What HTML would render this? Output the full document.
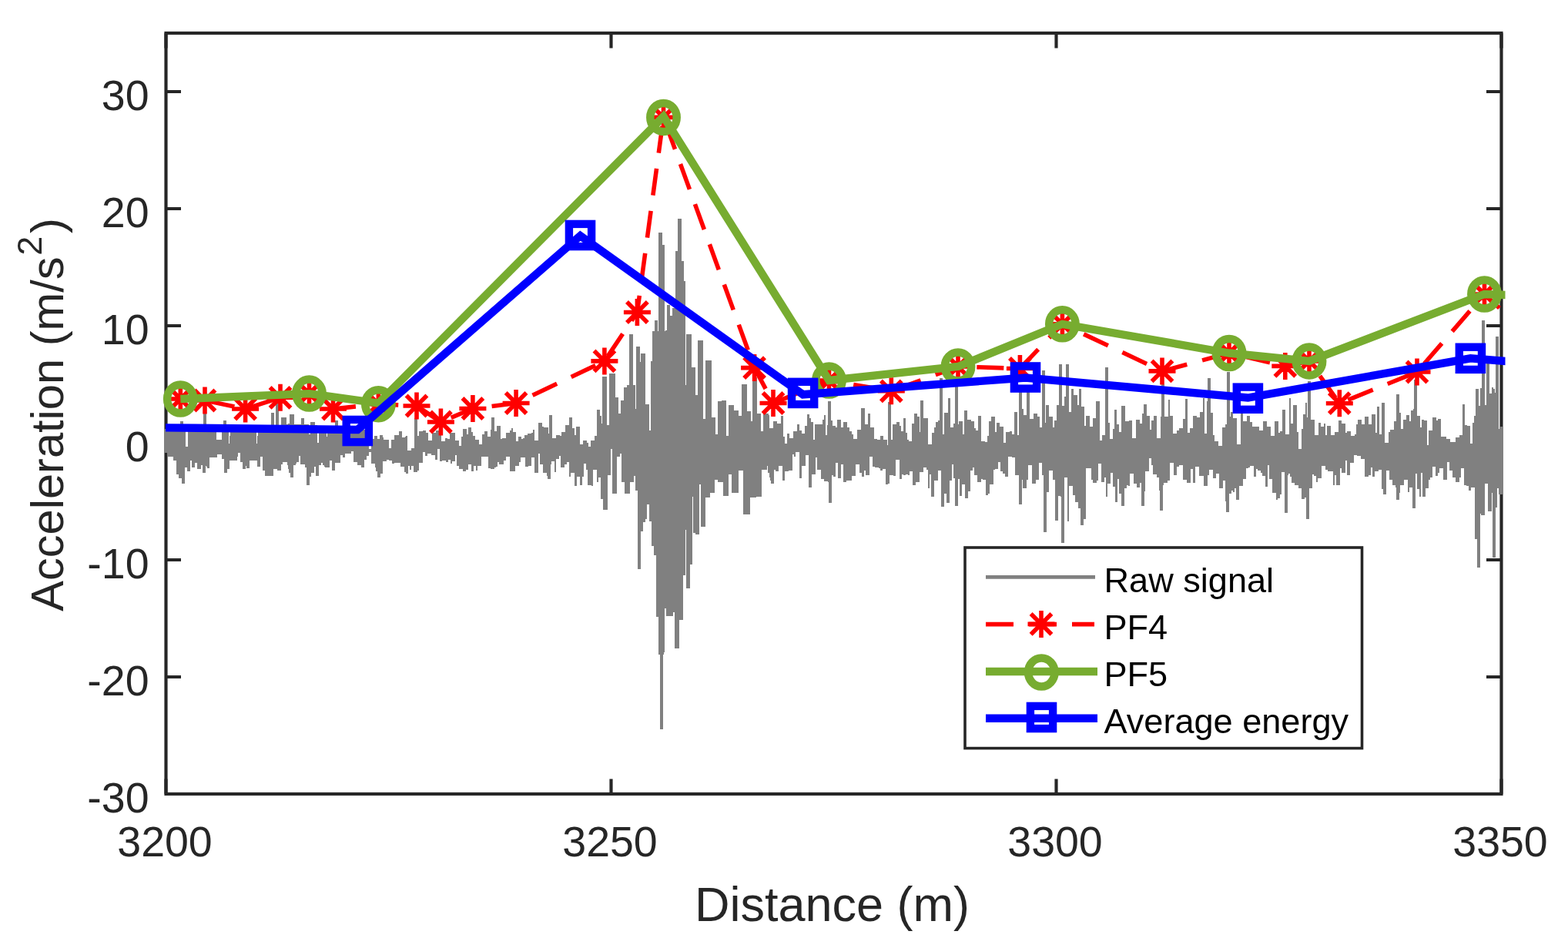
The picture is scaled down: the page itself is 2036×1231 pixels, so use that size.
<!DOCTYPE html><html><head><meta charset="utf-8"><title>Acceleration vs Distance</title><style>html,body{margin:0;padding:0;background:#fff;width:2036px;height:1231px;overflow:hidden}svg{display:block}text{font-family:"Liberation Sans",Arial,Helvetica,sans-serif}</style></head><body>
<svg width="2036" height="1231" viewBox="0 0 2036 1231">
<rect width="2036" height="1231" fill="#fff"/>
<defs><clipPath id="ax"><rect x="215" y="38" width="1739.5" height="998"/></clipPath></defs>
<g stroke="#262626" stroke-width="4.17" fill="none">
<rect x="215.5" y="43.0" width="1734.0" height="988.0" stroke-linejoin="miter"/>
<path d="M215.5,1031.0H235.0M1949.5,1031.0H1930.0M215.5,879.0H235.0M1949.5,879.0H1930.0M215.5,727.0H235.0M1949.5,727.0H1930.0M215.5,575.0H235.0M1949.5,575.0H1930.0M215.5,423.0H235.0M1949.5,423.0H1930.0M215.5,271.0H235.0M1949.5,271.0H1930.0M215.5,119.0H235.0M1949.5,119.0H1930.0M215.5,1031.0V1011.5M215.5,43.0V62.5M793.5,1031.0V1011.5M793.5,43.0V62.5M1371.5,1031.0V1011.5M1371.5,43.0V62.5M1949.5,1031.0V1011.5M1949.5,43.0V62.5"/>
</g>
<g fill="#262626" font-size="55.5">
<text x="193.5" y="1054.5" text-anchor="end">-30</text>
<text x="193.5" y="902.5" text-anchor="end">-20</text>
<text x="193.5" y="750.5" text-anchor="end">-10</text>
<text x="193.5" y="598.5" text-anchor="end">0</text>
<text x="193.5" y="446.5" text-anchor="end">10</text>
<text x="193.5" y="294.5" text-anchor="end">20</text>
<text x="193.5" y="142.5" text-anchor="end">30</text>
<text x="214.0" y="1111.5" text-anchor="middle">3200</text>
<text x="792.0" y="1111.5" text-anchor="middle">3250</text>
<text x="1370.0" y="1111.5" text-anchor="middle">3300</text>
<text x="1948.0" y="1111.5" text-anchor="middle">3350</text>
</g>
<text x="1080.5" y="1195.7" text-anchor="middle" font-size="63" fill="#262626">Distance (m)</text>
<text transform="translate(82,793.8) rotate(-90)" font-size="59.6" fill="#262626">Acceleration (m/s<tspan font-size="45" dx="1.8" dy="-28">2</tspan><tspan dx="3.6" dy="28">)</tspan></text>
<path d="M213,557H234V547H238V557H241V580H244V557H264V537H268V557H281V571H288V557H290V546H294V557H297V576H298V566H299V557H333V576H334V566H335V557H352V536H356V557H358V524H362V557H365V542H372V551H374V550H376V538H382V551H391V543H395V551H401V564H403V548H409V552H412V575H414V556H424V567H425V556H435V546H439V558H479V583H482V558H484V570H486V566H490V570H493V565H497V568H498V571H505V582H508V571H512V565H518V560H522V568H526V567H527V566H529V585H534V582H538V543H542V566H544V560H549V559H553V562H556V572H561V562H566V559H573V573H578V569H581V570H584V562H591V572H596V579H599V567H601V557H606V564H608V555H612V561H614V566H617V571H622V577H626V564H629V560H633V567H637V558H638V542H642V560H645V553H650V570H652V569H657V562H662V559H664V556H666V561H670V573H673V567H677V570H679V569H681V565H685V563H690V562H692V558H694V572H699V549H704V554H706V555H712V563H713V539H717V569H722V565H727V566H729V561H734V552H739V542H743V556H746V565H748V554H753V577H757V572H762V575H764V580H767V572H772V566H775V532H779V540H781V550H782V489H788V552H791V485H799V516H803V537H806V520H810V503H814V500H817V434H822V500H825V531H826V450H831V470H832V459H838V525H843V559H845V469H847V430H850V416H854V430H855V302H860V318H863V430H864V429H866V396H870V410H873V400H877V326H880V284H885V339H888V365H890V500H891V434H898V477H903V513H906V442H913V544H916V468H924V542H929V564H932V521H937V520H943V566H946V526H953V533H959V540H963V499H970V534H975V547H977V490H983V537H988V560H991V537H998V539H999V556H1004V547H1009V550H1014V540H1017V567H1019V576H1022V563H1025V569H1030V560H1035V551H1038V559H1041V563H1045V553H1048V538H1051V543H1053V548H1056V571H1058V551H1068V545H1070V539H1072V565H1074V552H1075V521H1079V546H1081V553H1085V555H1087V545H1092V555H1095V548H1100V555H1103V560H1106V564H1108V570H1113V558H1118V530H1123V551H1127V537H1130V555H1135V570H1139V571H1143V566H1147V571H1152V578H1153V522H1157V571H1159V551H1164V548H1168V553H1170V560H1173V543H1176V562H1178V571H1180V573H1184V550H1187V537H1191V541H1194V561H1195V520H1199V543H1205V577H1210V562H1213V555H1215V548H1218V546H1220V491H1224V564H1226V536H1231V517H1234V555H1238V550H1240V501H1244V551H1245V547H1250V564H1252V533H1256V545H1261V547H1265V556H1267V559H1270V540H1274V573H1279V574H1282V566H1284V547H1287V541H1292V561H1294V549H1298V554H1303V575H1306V561H1311V560H1314V564H1317V535H1321V565H1323V504H1327V531H1329V539H1333V504H1337V544H1342V537H1347V541H1350V555H1353V481H1357V549H1358V526H1362V541H1367V555H1369V546H1372V526H1375V473H1379V527H1382V515H1384V473H1388V535H1391V505H1394V513H1399V526H1401V505H1404V528H1408V553H1410V540H1415V554H1419V543H1423V521H1428V572H1431V565H1435V477H1439V549H1441V570H1445V557H1447V532H1450V551H1453V561H1456V527H1461V547H1466V546H1470V569H1475V545H1480V550H1483V537H1485V525H1489V540H1493V558H1495V546H1498V540H1502V569H1507V541H1508V499H1512V541H1517V519H1519V540H1523V563H1528V559H1531V556H1536V544H1539V518H1542V562H1545V556H1549V540H1554V542H1558V535H1562V517H1564V563H1567V521H1568V491H1572V536H1575V565H1577V573H1582V579H1587V555H1591V551H1593V483H1597V541H1598V535H1601V543H1606V577H1611V534H1614V547H1619V540H1623V548H1626V554H1635V559H1640V547H1645V554H1650V566H1655V547H1660V562H1662V560H1665V532H1669V564H1674V517H1676V550H1679V526H1684V561H1686V583H1690V557H1692V538H1695V523H1697V542H1698V495H1702V545H1707V565H1712V549H1715V554H1719V550H1721V565H1723V553H1728V565H1733V561H1738V546H1742V550H1747V562H1749V560H1754V566H1759V564H1761V551H1763V545H1768V551H1772V541H1777V551H1781V538H1786V562H1788V528H1791V564H1794V523H1798V575H1803V561H1805V558H1810V547H1813V512H1817V536H1819V557H1822V545H1826V539H1830V547H1832V533H1835V531H1836V493H1840V540H1844V555H1846V545H1849V546H1853V578H1855V559H1860V542H1865V546H1867V544H1871V567H1878V570H1883V574H1890V568H1895V565H1899V525H1902V552H1905V553H1909V576H1912V549H1914V540H1916V505H1920V527H1922V504H1924V416H1928V526H1930V470H1934V511H1937V503H1939V505H1941V510H1942V437H1946V557H1947V554H1952V643H1951V642H1946V634H1944V659H1942V724H1938V640H1937V664H1932V628H1928V669H1923V667H1922V737H1918V700H1915V633H1910V637H1907V631H1904V630H1901V608H1897V620H1895V626H1890V620H1886V611H1882V600H1879V623H1874V608H1869V614H1867V618H1864V606H1860V620H1857V623H1855V634H1851V645H1847V614H1845V645H1843V635H1840V615H1838V660H1834V633H1830V639H1828V623H1823V630H1818V640H1817V649H1813V633H1812V630H1808V623H1804V611H1800V642H1796V635H1794V610H1790V612H1785V619H1782V607H1780V617H1777V619H1772V596H1767V592H1762V591H1758V601H1753V617H1749V598H1747V614H1742V608H1740V630H1735V617H1733V630H1731V612H1724V610H1721V605H1716V621H1711V626H1709V618H1706V616H1704V634H1700V674H1696V646H1694V648H1690V634H1686V630H1681V627H1677V619H1675V615H1673V617H1672V666H1668V613H1664V642H1662V647H1659V649H1657V640H1652V622H1648V604H1646V632H1643V618H1639V614H1637V611H1633V609H1631V619H1628V605H1623V607H1621V608H1618V622H1614V631H1609V649H1605V634H1603V639H1601V637H1599V641H1596V665H1592V651H1591V624H1588V634H1583V615H1579V621H1575V610H1570V617H1568V631H1563V618H1557V606H1552V627H1549V609H1546V627H1541V623H1536V604H1531V606H1528V617H1524V601H1519V624H1516V627H1511V630H1510V663H1506V637H1505V620H1502V616H1497V604H1495V595H1492V612H1487V638H1486V657H1482V627H1480V633H1476V628H1472V615H1467V631H1465V630H1463V634H1460V657H1456V641H1453V622H1451V652H1448V632H1445V614H1442V628H1438V645H1436V620H1434V626H1430V602H1426V624H1424V627H1419V623H1417V608H1410V674H1407V682H1403V660H1400V652H1396V643H1393V631H1388V677H1386V620H1382V705H1378V645H1377V644H1374V676H1370V623H1367V611H1362V639H1359V691H1355V617H1353V601H1349V623H1345V628H1340V604H1335V623H1333V634H1328V623H1327V655H1323V617H1318V594H1314V593H1309V619H1305V615H1302V612H1299V600H1296V609H1292V610H1290V629H1285V641H1283V643H1280V623H1276V622H1274V626H1269V617H1265V607H1263V611H1260V638H1257V647H1253V629H1249V644H1246V622H1244V657H1240V621H1238V603H1236V624H1233V653H1229V641H1226V658H1222V611H1218V624H1213V645H1209V616H1207V634H1205V610H1203V607H1199V613H1194V626H1189V630H1185V612H1181V617H1179V616H1176V617H1173V616H1171V622H1168V597H1163V618H1160V617H1155V628H1153V629H1150V609H1146V611H1143V608H1141V607H1136V606H1133V593H1129V617H1124V611H1122V619H1119V614H1116V603H1111V618H1106V624H1099V626H1095V603H1092V621H1088V601H1085V619H1082V617H1080V653H1076V626H1075V625H1070V622H1066V610H1061V594H1059V616H1054V633H1050V591H1046V605H1041V621H1038V587H1033V593H1031V590H1029V611H1024V612H1019V624H1016V605H1011V612H1007V610H1005V628H1001V624H1000V620H999V614H997V605H996V610H989V645H982V646H974V668H965V611H959V640H950V616H946V644H939V626H932V623H928V640H922V646H916V684H910V629H908V694H903V692H900V645H899V733H896V764H891V688H890V747H887V805H882V842H876V795H874V800H865V790H863V847H862V850H861V947H857V850H855V801H852V721H849V709H846V677H843V655H840V674H838V678H835V690H832V739H828V637H825V618H823V626H818V641H811V626H807V589H805V593H801V641H795V583H793V617H789V662H783V648H780V620H777V626H775V610H770V631H768V630H763V610H761V602H758V619H756V630H753V619H749V631H746V614H741V619H739V600H736V603H733V607H728V592H726V596H722V613H720V599H716V603H715V622H711V618H710V614H705V603H701V589H699V614H694V594H690V605H686V606H682V594H676V600H674V605H669V612H662V593H657V598H654V603H648V600H646V606H644V607H642V609H637V608H634V593H625V605H620V611H618V605H615V612H612V603H608V610H605V612H601V609H596V605H593V591H591V599H587V602H585V597H582V600H579V598H574V599H571V583H568V597H565V591H560V589H555V592H552V587H549V601H544V611H542V613H537V605H534V610H532V605H530V615H527V613H525V606H520V601H512V602H509V598H505V597H502V599H497V615H494V620H490V612H488V607H487V602H482V587H479V592H476V597H473V607H469V604H464V600H459V586H456V589H448V594H445V591H442V601H435V611H431V598H428V607H422V606H421V604H419V601H417V604H414V618H410V606H408V614H404V619H402V630H398V607H396V603H390V592H388V600H385V602H384V604H381V620H377V614H375V609H374V604H373V600H367V603H365V611H360V609H355V618H344V611H341V593H338V606H334V598H324V608H320V605H319V609H315V600H312V588H309V593H308V598H298V609H295V614H291V596H288V590H282V594H272V608H269V606H268V605H267V614H263V604H261V609H256V601H253V607H249V598H247V612H243V607H240V628H236V621H232V616H229V598H225V593H218V588H213Z" fill="#808080" shape-rendering="crispEdges"/>
<g clip-path="url(#ax)" fill="none">
<polyline points="234.3,518.0 266.0,520.0 318.6,531.0 364.0,516.3 401.5,511.1 432.5,531.0 491.4,524.7 541.0,527.0 572.4,548.0 613.9,530.5 670.1,523.5 784.9,468.9 827.4,405.5 861.5,152.4 979.6,477.6 1004.0,523.5 1076.5,494.0 1157.3,507.8 1244.0,476.0 1324.4,478.5 1379.4,420.8 1509.0,481.9 1596.0,458.5 1668.8,475.4 1700.0,468.9 1739.3,523.7 1840.0,483.0 1927.5,382.0 1990.0,440.0" stroke="#FF0000" stroke-width="5.6" stroke-dasharray="35 20.5" stroke-dashoffset="19.5"/>
</g>
<path d="M216.8,518.0H251.8M234.3,500.5V535.5M220.9,504.6L247.7,531.4M220.9,531.4L247.7,504.6M248.5,520.0H283.5M266.0,502.5V537.5M252.6,506.6L279.4,533.4M252.6,533.4L279.4,506.6M301.1,531.0H336.1M318.6,513.5V548.5M305.2,517.6L332.0,544.4M305.2,544.4L332.0,517.6M346.5,516.3H381.5M364.0,498.8V533.8M350.6,502.9L377.4,529.7M350.6,529.7L377.4,502.9M384.0,511.1H419.0M401.5,493.6V528.6M388.1,497.7L414.9,524.5M388.1,524.5L414.9,497.7M415.0,531.0H450.0M432.5,513.5V548.5M419.1,517.6L445.9,544.4M419.1,544.4L445.9,517.6M473.9,524.7H508.9M491.4,507.2V542.2M478.0,511.3L504.8,538.1M478.0,538.1L504.8,511.3M523.5,527.0H558.5M541.0,509.5V544.5M527.6,513.6L554.4,540.4M527.6,540.4L554.4,513.6M554.9,548.0H589.9M572.4,530.5V565.5M559.0,534.6L585.8,561.4M559.0,561.4L585.8,534.6M596.4,530.5H631.4M613.9,513.0V548.0M600.5,517.1L627.3,543.9M600.5,543.9L627.3,517.1M652.6,523.5H687.6M670.1,506.0V541.0M656.7,510.1L683.5,536.9M656.7,536.9L683.5,510.1M767.4,468.9H802.4M784.9,451.4V486.4M771.5,455.5L798.3,482.3M771.5,482.3L798.3,455.5M809.9,405.5H844.9M827.4,388.0V423.0M814.0,392.1L840.8,418.9M814.0,418.9L840.8,392.1M844.0,152.4H879.0M861.5,134.9V169.9M848.1,139.0L874.9,165.8M848.1,165.8L874.9,139.0M962.1,477.6H997.1M979.6,460.1V495.1M966.2,464.2L993.0,491.0M966.2,491.0L993.0,464.2M986.5,523.5H1021.5M1004.0,506.0V541.0M990.6,510.1L1017.4,536.9M990.6,536.9L1017.4,510.1M1059.0,494.0H1094.0M1076.5,476.5V511.5M1063.1,480.6L1089.9,507.4M1063.1,507.4L1089.9,480.6M1139.8,507.8H1174.8M1157.3,490.3V525.3M1143.9,494.4L1170.7,521.2M1143.9,521.2L1170.7,494.4M1226.5,476.0H1261.5M1244.0,458.5V493.5M1230.6,462.6L1257.4,489.4M1230.6,489.4L1257.4,462.6M1306.9,478.5H1341.9M1324.4,461.0V496.0M1311.0,465.1L1337.8,491.9M1311.0,491.9L1337.8,465.1M1361.9,420.8H1396.9M1379.4,403.3V438.3M1366.0,407.4L1392.8,434.2M1366.0,434.2L1392.8,407.4M1491.5,481.9H1526.5M1509.0,464.4V499.4M1495.6,468.5L1522.4,495.3M1495.6,495.3L1522.4,468.5M1578.5,458.5H1613.5M1596.0,441.0V476.0M1582.6,445.1L1609.4,471.9M1582.6,471.9L1609.4,445.1M1651.3,475.4H1686.3M1668.8,457.9V492.9M1655.4,462.0L1682.2,488.8M1655.4,488.8L1682.2,462.0M1682.5,468.9H1717.5M1700.0,451.4V486.4M1686.6,455.5L1713.4,482.3M1686.6,482.3L1713.4,455.5M1721.8,523.7H1756.8M1739.3,506.2V541.2M1725.9,510.3L1752.7,537.1M1725.9,537.1L1752.7,510.3M1822.5,483.0H1857.5M1840.0,465.5V500.5M1826.6,469.6L1853.4,496.4M1826.6,496.4L1853.4,469.6M1910.0,382.0H1945.0M1927.5,364.5V399.5M1914.1,368.6L1940.9,395.4M1914.1,395.4L1940.9,368.6" stroke="#FF0000" stroke-width="5.6" fill="none"/>
<g clip-path="url(#ax)" fill="none">
<polyline points="234.3,518.0 401.5,511.1 491.4,523.6 861.5,151.3 1076.5,494.0 1244.0,476.0 1379.4,420.8 1596.0,458.5 1700.0,468.9 1927.5,382.0 2100.0,388.0" stroke="#77AC30" stroke-width="10.4" stroke-linejoin="miter"/>
</g>
<g stroke="#77AC30" stroke-width="10.5" fill="none"><ellipse cx="234.3" cy="518" rx="17.2" ry="18.5"/><ellipse cx="401.5" cy="511.1" rx="17.2" ry="18.5"/><ellipse cx="491.4" cy="524.7" rx="17.2" ry="18.5"/><ellipse cx="861.5" cy="152.4" rx="17.2" ry="18.5"/><ellipse cx="1076.5" cy="494" rx="17.2" ry="18.5"/><ellipse cx="1244" cy="476" rx="17.2" ry="18.5"/><ellipse cx="1379.4" cy="420.8" rx="17.2" ry="18.5"/><ellipse cx="1596" cy="458.5" rx="17.2" ry="18.5"/><ellipse cx="1700" cy="468.9" rx="17.2" ry="18.5"/><ellipse cx="1927.5" cy="382" rx="17.2" ry="18.5"/></g>
<g clip-path="url(#ax)" fill="none">
<polyline points="175.3,554.9 464.3,558.0 753.5,306.2 1042.6,512.3 1331.5,490.5 1620.4,516.5 1909.4,465.3 2198.4,489.0" stroke="#0000FF" stroke-width="10.4" stroke-linejoin="miter"/>
</g>
<g stroke="#0000FF" stroke-width="10.4" fill="none"><rect x="449.7" y="544.9" width="29.2" height="29.2"/><rect x="738.9" y="290.9" width="29.2" height="29.2"/><rect x="1028.0" y="495.8" width="29.2" height="29.2"/><rect x="1316.9" y="475.4" width="29.2" height="29.2"/><rect x="1605.8" y="502.6" width="29.2" height="29.2"/><rect x="1894.8" y="450.7" width="29.2" height="29.2"/></g>
<rect x="1253" y="711" width="515.5" height="260.6" fill="#fff" stroke="#262626" stroke-width="3.6"/>
<path d="M1280,749.4H1422" stroke="#808080" stroke-width="4.6"/>
<path d="M1280,810.6H1421" stroke="#FF0000" stroke-width="5.6" stroke-dasharray="36 20"/>
<path d="M1334.5,810.4H1369.5M1352.0,792.9V827.9M1338.6,797.0L1365.4,823.8M1338.6,823.8L1365.4,797.0" stroke="#FF0000" stroke-width="5.6"/>
<path d="M1280,872H1425" stroke="#77AC30" stroke-width="10.4"/>
<ellipse cx="1352.3" cy="873" rx="17.2" ry="18.5" stroke="#77AC30" stroke-width="10.5" fill="none"/>
<path d="M1280,932.8H1425" stroke="#0000FF" stroke-width="10.4"/>
<rect x="1337.9" y="916.9" width="29.2" height="29.2" stroke="#0000FF" stroke-width="10.4" fill="none"/>
<g font-size="45.1" fill="#000">
<text x="1433.5" y="769">Raw signal</text>
<text x="1433.5" y="830">PF4</text>
<text x="1433.5" y="891">PF5</text>
<text x="1433.5" y="952">Average energy</text>
</g>
</svg></body></html>
